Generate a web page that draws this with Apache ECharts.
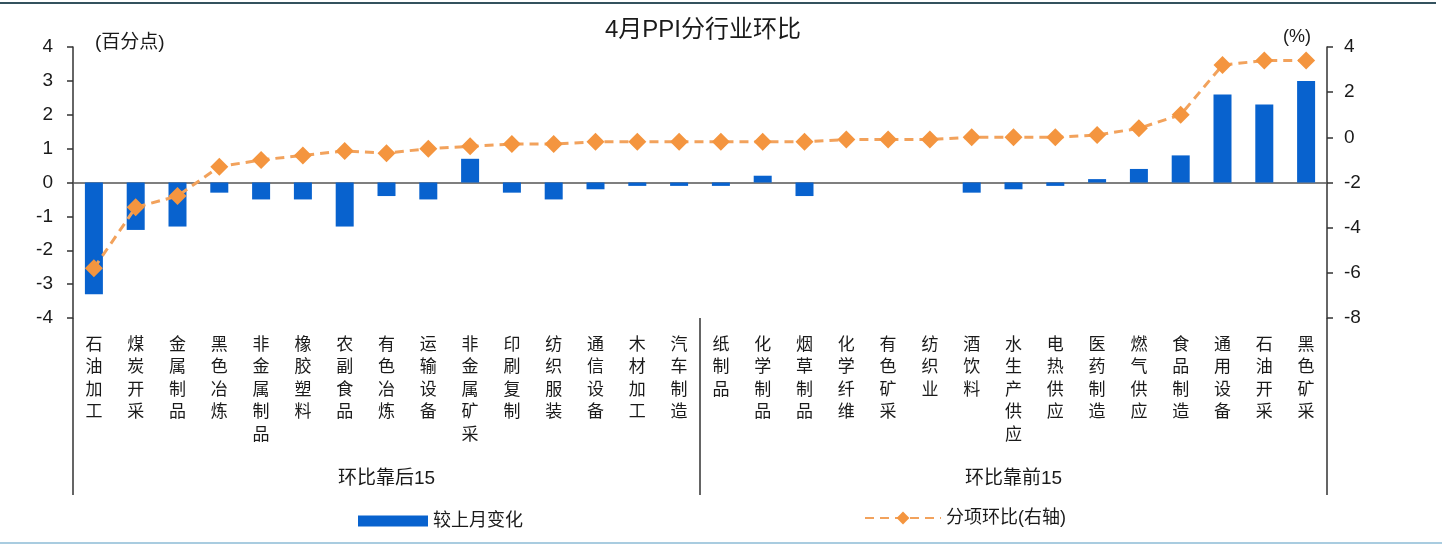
<!DOCTYPE html>
<html>
<head>
<meta charset="utf-8">
<title>4月PPI分行业环比</title>
<script src="https://cdn.jsdelivr.net/npm/echarts@6/dist/echarts.min.js"></script>
<style>
  html, body { margin: 0; padding: 0; background: #fff; }
  #wrap { position: relative; width: 1442px; height: 545px; overflow: hidden; }
  #chart { position: absolute; left: 0; top: 0; width: 1442px; height: 545px; }
  .rule-top { position: absolute; left: 0; top: 2px; width: 1436px; height: 2px; background: #34525e; }
  .rule-bottom { position: absolute; left: 0; top: 542px; width: 1442px; height: 2px; background: #a9cce0; }
</style>
</head>
<body>
<div id="wrap">
  <div id="chart"></div>
  <div class="rule-top"></div>
  <div class="rule-bottom"></div>
</div>
<script>
// Industries, sorted by month-on-month change (lowest to highest)
const categories = [
  '石油加工', '煤炭开采', '金属制品', '黑色冶炼', '非金属制品',
  '橡胶塑料', '农副食品', '有色冶炼', '运输设备', '非金属矿采',
  '印刷复制', '纺织服装', '通信设备', '木材加工', '汽车制造',
  '纸制品', '化学制品', '烟草制品', '化学纤维', '有色矿采',
  '纺织业', '酒饮料', '水生产供应', '电热供应', '医药制造',
  '燃气供应', '食品制造', '通用设备', '石油开采', '黑色矿采'
];

// Two groups along the bottom: the 15 weakest and the 15 strongest
const groups = ['环比靠后15', '环比靠前15'];

// Change versus last month (percentage points, left axis)
const changeVsLastMonth = [
  -3.3, -1.4, -1.3, -0.3, -0.5,
  -0.5, -1.3, -0.4, -0.5, 0.7,
  -0.3, -0.5, -0.2, -0.1, -0.1,
  -0.1, 0.2, -0.4, 0, 0,
  0, -0.3, -0.2, -0.1, 0.1,
  0.4, 0.8, 2.6, 2.3, 3.0
];

// Month-on-month change per industry (%, right axis)
const momChange = [
  -5.8, -3.1, -2.6, -1.3, -1.0,
  -0.8, -0.6, -0.7, -0.5, -0.4,
  -0.3, -0.3, -0.2, -0.2, -0.2,
  -0.2, -0.2, -0.2, -0.1, -0.1,
  -0.1, 0.0, 0.0, 0.0, 0.1,
  0.4, 1.0, 3.2, 3.4, 3.4
];

const seriesNames = ['较上月变化', '分项环比(右轴)'];

const FONT = '"Liberation Sans", "Noto Sans CJK SC", sans-serif';
const TEXT = '#1a1a1a';
const AXIS = '#333333';
const BLUE = '#0862ce';
const ORANGE_LINE = '#f2a25c';
const ORANGE_MARK = '#f4953f';

const chart = echarts.init(document.getElementById('chart'), null, { renderer: 'canvas' });

chart.setOption({
  animation: false,
  backgroundColor: '#ffffff',
  textStyle: { fontFamily: FONT, color: TEXT },
  title: {
    text: '4月PPI分行业环比',
    left: 703,
    textAlign: 'center',
    top: 18,
    padding: 0,
    textStyle: { fontFamily: FONT, fontSize: 24, fontWeight: 'normal', color: TEXT }
  },
  legend: [
    {
      data: [seriesNames[0]],
      left: 358,
      top: 512,
      padding: 0,
      itemWidth: 70,
      itemHeight: 11,
      itemGap: 6,
      icon: 'rect',
      textStyle: { fontFamily: FONT, fontSize: 18, color: TEXT }
    },
    {
      data: [seriesNames[1]],
      left: 864,
      top: 509,
      padding: 0,
      itemWidth: 76,
      itemHeight: 16,
      textStyle: { fontFamily: FONT, fontSize: 18, color: TEXT }
    }
  ],
  grid: { left: 73, right: 115, top: 47, bottom: 227, containLabel: false },
  xAxis: [
    {
      // zero line of the left axis, carrying the series
      type: 'category',
      data: categories,
      position: 'bottom',
      axisLine: { onZero: true, onZeroAxisIndex: 0, lineStyle: { color: '#555', width: 1.5 } },
      axisTick: { show: false },
      axisLabel: { show: false }
    },
    {
      // vertical industry names under the plot
      type: 'category',
      data: categories,
      position: 'bottom',
      offset: 0,
      axisLine: { show: false, onZero: false },
      axisTick: { show: false },
      axisLabel: {
        interval: 0,
        margin: 16,
        fontFamily: FONT,
        fontSize: 17,
        lineHeight: 22.5,
        color: TEXT,
        verticalAlign: 'top',
        formatter: (v) => v.split('').join('\n')
      }
    },
    {
      // group captions with separators between the two halves
      type: 'category',
      data: groups,
      position: 'bottom',
      offset: 177,
      axisLine: { show: false, onZero: false },
      axisTick: {
        show: true,
        inside: true,
        length: 177,
        interval: 0,
        lineStyle: { color: AXIS, width: 1.5 }
      },
      axisLabel: {
        interval: 0,
        margin: -26,
        fontFamily: FONT,
        fontSize: 19,
        color: TEXT
      }
    }
  ],
  yAxis: [
    {
      type: 'value',
      min: -4,
      max: 4,
      interval: 1,
      position: 'left',
      name: '(百分点)',
      nameLocation: 'end',
      nameGap: 4,
      nameTextStyle: {
        fontFamily: FONT, fontSize: 19, color: TEXT,
        align: 'left', verticalAlign: 'middle', padding: [0, 0, 0, 22]
      },
      splitLine: { show: false },
      axisLine: { show: true, lineStyle: { color: AXIS, width: 1.5 } },
      axisTick: { show: true, length: 6, lineStyle: { color: AXIS, width: 1.5 } },
      axisLabel: { margin: 20, fontFamily: FONT, fontSize: 19, color: TEXT }
    },
    {
      type: 'value',
      min: -8,
      max: 4,
      interval: 2,
      position: 'right',
      name: '(%)',
      nameLocation: 'end',
      nameGap: 10,
      nameTextStyle: {
        fontFamily: FONT, fontSize: 18, color: TEXT,
        align: 'right', verticalAlign: 'middle', padding: [0, 16, 0, 0]
      },
      splitLine: { show: false },
      axisLine: { show: true, lineStyle: { color: AXIS, width: 1.5 } },
      axisTick: { show: true, length: 6, lineStyle: { color: AXIS, width: 1.5 } },
      axisLabel: { margin: 17, fontFamily: FONT, fontSize: 19, color: TEXT }
    }
  ],
  series: [
    {
      name: seriesNames[0],
      type: 'bar',
      xAxisIndex: 0,
      yAxisIndex: 0,
      data: changeVsLastMonth,
      barWidth: 18,
      itemStyle: { color: BLUE }
    },
    {
      name: seriesNames[1],
      type: 'line',
      xAxisIndex: 0,
      yAxisIndex: 1,
      data: momChange,
      symbol: 'diamond',
      symbolSize: 18,
      lineStyle: { color: ORANGE_LINE, width: 3, type: [9, 6] },
      itemStyle: { color: ORANGE_MARK }
    }
  ]
});
</script>
</body>
</html>
